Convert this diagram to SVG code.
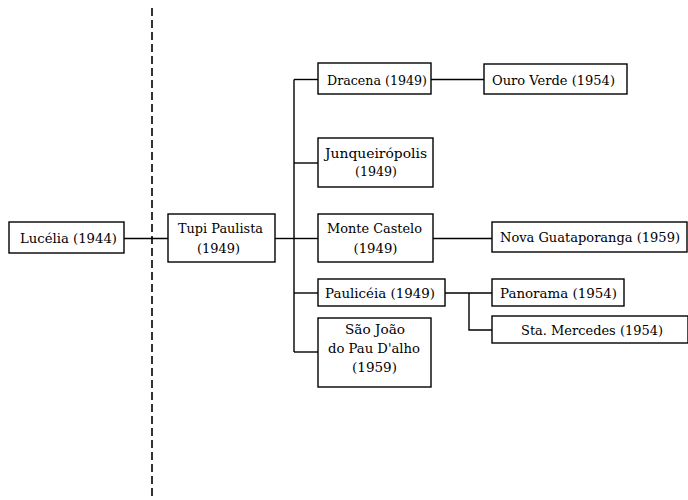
<svg xmlns="http://www.w3.org/2000/svg" width="688" height="500" viewBox="0 0 688 500">
  <style>
    .box { fill: #ffffff; stroke: #000000; stroke-width: 1.4; }
    .lbl { font-family: "DejaVu Serif", "Liberation Serif", serif; font-size: 13px; fill: #000000; text-anchor: middle; }
    .wire { fill: none; stroke: #000000; stroke-width: 1.4; }
    .divider { fill: none; stroke: #000000; stroke-width: 1.6; stroke-dasharray: 8 4; }
  </style>
  <rect width="688" height="500" fill="#ffffff"/>

  <!-- vertical separator -->
  <line class="divider" x1="152" y1="8" x2="152" y2="498"/>

  <!-- connectors -->
  <g id="connectors">
    <path class="wire" d="M124 238.5 H168"/>
    <path class="wire" d="M275 238.5 H294"/>
    <path class="wire" d="M294 79.5 V352"/>
    <path class="wire" d="M294 79.5 H318"/>
    <path class="wire" d="M294 163 H318"/>
    <path class="wire" d="M294 238.5 H318"/>
    <path class="wire" d="M294 293 H318"/>
    <path class="wire" d="M294 352 H318"/>
    <path class="wire" d="M431 79.5 H484"/>
    <path class="wire" d="M433 238.5 H492"/>
    <path class="wire" d="M445 293 H492"/>
    <path class="wire" d="M469 293 V330 H492"/>
  </g>

  <g id="lucelia">
    <rect class="box" x="9" y="222" width="115" height="31"/>
    <text class="lbl" x="68.5" y="243" textLength="97" lengthAdjust="spacingAndGlyphs">Lucélia (1944)</text>
  </g>

  <g id="tupi-paulista">
    <rect class="box" x="168" y="214" width="107" height="48"/>
    <text class="lbl" x="220.5" y="233" textLength="85" lengthAdjust="spacingAndGlyphs">Tupi Paulista</text>
    <text class="lbl" x="218.5" y="253" textLength="43" lengthAdjust="spacingAndGlyphs">(1949)</text>
  </g>

  <g id="dracena">
    <rect class="box" x="318" y="63" width="113" height="31"/>
    <text class="lbl" x="377" y="85" textLength="100" lengthAdjust="spacingAndGlyphs">Dracena (1949)</text>
  </g>

  <g id="ouro-verde">
    <rect class="box" x="484" y="64" width="143" height="30"/>
    <text class="lbl" x="553.5" y="85" textLength="123" lengthAdjust="spacingAndGlyphs">Ouro Verde (1954)</text>
  </g>

  <g id="junqueiropolis">
    <rect class="box" x="318" y="138" width="115" height="49"/>
    <text class="lbl" x="376" y="158" textLength="102" lengthAdjust="spacingAndGlyphs">Junqueirópolis</text>
    <text class="lbl" x="376" y="176" textLength="42" lengthAdjust="spacingAndGlyphs">(1949)</text>
  </g>

  <g id="monte-castelo">
    <rect class="box" x="318" y="214" width="115" height="48"/>
    <text class="lbl" x="374.5" y="233" textLength="95" lengthAdjust="spacingAndGlyphs">Monte Castelo</text>
    <text class="lbl" x="375.5" y="253" textLength="44" lengthAdjust="spacingAndGlyphs">(1949)</text>
  </g>

  <g id="nova-guataporanga">
    <rect class="box" x="492" y="222" width="195" height="30"/>
    <text class="lbl" x="590" y="242" textLength="180" lengthAdjust="spacingAndGlyphs">Nova Guataporanga (1959)</text>
  </g>

  <g id="pauliceia">
    <rect class="box" x="318" y="279" width="127" height="27"/>
    <text class="lbl" x="380" y="298" textLength="110" lengthAdjust="spacingAndGlyphs">Paulicéia (1949)</text>
  </g>

  <g id="panorama">
    <rect class="box" x="492" y="279" width="132" height="27"/>
    <text class="lbl" x="558.5" y="298" textLength="117" lengthAdjust="spacingAndGlyphs">Panorama (1954)</text>
  </g>

  <g id="sta-mercedes">
    <rect class="box" x="492" y="316" width="196" height="27"/>
    <text class="lbl" x="592" y="335" textLength="142" lengthAdjust="spacingAndGlyphs">Sta. Mercedes (1954)</text>
  </g>

  <g id="sao-joao">
    <rect class="box" x="318" y="318" width="113" height="69"/>
    <text class="lbl" x="375" y="334" textLength="60" lengthAdjust="spacingAndGlyphs">São João</text>
    <text class="lbl" x="374" y="353" textLength="92" lengthAdjust="spacingAndGlyphs">do Pau D'alho</text>
    <text class="lbl" x="374.5" y="372" textLength="45" lengthAdjust="spacingAndGlyphs">(1959)</text>
  </g>
</svg>
